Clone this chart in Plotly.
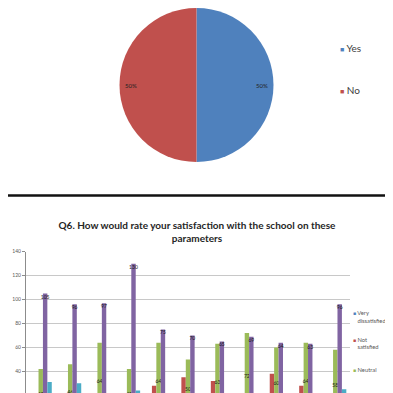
import plotly.graph_objects as go

# ---- Pie data ----
pie_labels = ["Yes", "No"]
pie_values = [50, 50]
pie_colors = ["#4F81BD", "#C0504D"]

# ---- Bar data (Q6) ----
categories = ["Parameter 1", "Parameter 2", "Parameter 3", "Parameter 4", "Parameter 5",
              "Parameter 6", "Parameter 7", "Parameter 8", "Parameter 9", "Parameter 10",
              "Parameter 11"]
very_dissatisfied = [8, 10, 9, 2, 12, 14, 10, 8, 12, 14, 6]
not_satisfied = [14, 18, 16, 4, 28, 35, 32, 14, 38, 28, 15]
neutral = [42, 46, 64, 42, 64, 50, 63, 72, 60, 64, 58]
satisfied = [105, 96, 97, 130, 75, 70, 65, 69, 64, 63, 96]
very_satisfied = [31, 30, 18, 24, 16, 14, 12, 13, 10, 12, 25]

series_names = ["Very dissatisfied", "Not satisfied", "Neutral", "Satisfied", "Very satisfied"]
legend_text = ["Very<br>\u00a0\u00a0\u00a0dissatisfied", "Not<br>\u00a0\u00a0\u00a0satisfied", "Neutral"]
series_values = [very_dissatisfied, not_satisfied, neutral, satisfied, very_satisfied]
series_colors = ["#4F81BD", "#C0504D", "#9BBB59", "#8064A2", "#4BACC6"]
label_anchor = ["middle", "middle", "middle", "end", "middle"]

FONT = "Lato"
W = H = 393
OFF = 8  # page body margin


def py(px):  # window pixel (from top) -> paper fraction
    return 1 - (px - OFF) / H


def px_(px):  # window pixel (from left) -> paper fraction
    return (px - OFF) / W


fig = go.Figure()

pie_dom = dict(x=[0, 2 * (196.5 - OFF) / W], y=[py(162), 1])
fig.add_trace(go.Pie(
    labels=pie_labels, values=pie_values, sort=False, direction="clockwise",
    marker=dict(colors=pie_colors, line=dict(width=0)),
    textinfo="none", domain=pie_dom, showlegend=False, hoverinfo="label+percent",
))
# transparent ring carrying the percentage labels near the rim
fig.add_trace(go.Pie(
    labels=pie_labels, values=pie_values, sort=False, direction="clockwise", hole=0.7,
    marker=dict(colors=["rgba(0,0,0,0)", "rgba(0,0,0,0)"], line=dict(width=0)),
    texttemplate="%{percent:.0%}", textposition="inside",
    insidetextorientation="horizontal",
    textfont=dict(family=FONT, size=6, color="#222222"),
    domain=pie_dom, showlegend=False, hoverinfo="skip",
))

for name, vals, col, anc in zip(series_names, series_values, series_colors, label_anchor):
    fig.add_trace(go.Bar(
        x=categories, y=vals, name=name, marker=dict(color=col, line=dict(width=0)),
        text=vals, textposition="inside", insidetextanchor=anc, textangle=0,
        constraintext="none", textfont=dict(family=FONT, size=5, color="#1a1a1a"),
        showlegend=False,
    ))

CLEAR = "rgba(0,0,0,0)"
# legend entries (bar chart) - only the first three are visible in the crop
for i, (txt, col) in enumerate(zip(legend_text, series_colors[:3])):
    fig.add_trace(go.Scatter(
        x=[None], y=[None], mode="markers",
        name="<span style='font-size:5px;color:%s'>\u25a0</span> %s" % (col, txt),
        marker=dict(symbol="square", size=4, color=CLEAR, line=dict(width=0, color=CLEAR)),
        legend="legend", legendgroup="g%d" % i, showlegend=True, hoverinfo="skip",
    ))
# legend entries (pie)
for i, (name, col) in enumerate(zip(pie_labels, pie_colors)):
    fig.add_trace(go.Scatter(
        x=[None], y=[None], mode="markers",
        name="<span style='font-size:7px;color:%s'>\u25a0</span> %s" % (col, name),
        marker=dict(symbol="square", size=5, color=CLEAR, line=dict(width=0, color=CLEAR)),
        legend="legend2", legendgroup="p%d" % i, showlegend=True, hoverinfo="skip",
    ))

fig.update_layout(
    width=W, height=H,
    margin=dict(l=0, r=0, t=0, b=0, autoexpand=False),
    paper_bgcolor="white", plot_bgcolor="white",
    barmode="group", bargap=0.25, bargroupgap=0,
    title=dict(
        text="<b>Q6. How would rate your satisfaction with the school on these<br>parameters</b>",
        x=px_(197), xanchor="center", y=py(229), yanchor="middle",
        font=dict(family=FONT, size=10, color="#262626"),
    ),
    xaxis=dict(domain=[px_(26), px_(350)], type="category", showticklabels=False,
               ticks="", showline=False, showgrid=False, zeroline=False),
    yaxis=dict(domain=[py(393), py(251.7)], range=[21.9, 140], dtick=20, tick0=0,
               showgrid=True, gridcolor="#c8c8c8", gridwidth=1,
               showline=True, linecolor="#8c8c8c", linewidth=1,
               ticks="outside", ticklen=3, tickcolor="#8c8c8c",
               tickfont=dict(family=FONT, size=5, color="#595959"), zeroline=False),
    legend=dict(x=px_(313), xanchor="left", y=py(302), yanchor="top",
                bgcolor="rgba(0,0,0,0)", tracegroupgap=7.6, valign="top",
                itemwidth=30, font=dict(family=FONT, size=5.8, color="#595959")),
    legend2=dict(x=px_(300), xanchor="left", y=py(33.2), yanchor="top",
                 bgcolor="rgba(0,0,0,0)", tracegroupgap=23.3,
                 itemwidth=30, font=dict(family=FONT, size=10, color="#404040")),
    shapes=[
        dict(type="line", xref="paper", yref="paper", x0=0, x1=1,
             y0=py(195.5), y1=py(195.5), line=dict(color="#111111", width=2.5)),
    ],
)

fig.write_html("out.html")
